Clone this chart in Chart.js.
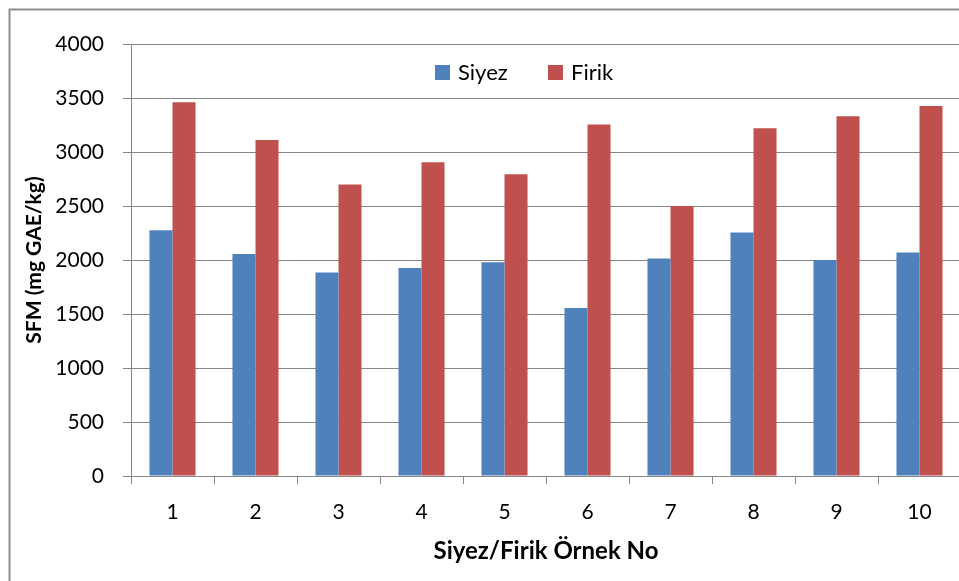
<!DOCTYPE html>
<html>
<head>
<meta charset="utf-8">
<script src="https://cdn.jsdelivr.net/npm/chart.js@4/dist/chart.umd.min.js"></script>
<style>
  html, body { margin: 0; padding: 0; background: #fff; overflow: hidden; }
  #wrap { width: 959px; height: 581px; overflow: hidden; position: relative; }
  canvas { display: block; }
</style>
</head>
<body>
<div id="wrap"><canvas id="c" width="966" height="581"></canvas></div>
<script>
// Sample numbers on the category axis
const categories = ['1', '2', '3', '4', '5', '6', '7', '8', '9', '10'];
// Total phenolic content, mg GAE/kg
const siyezValues = [2275, 2055, 1885, 1925, 1980, 1555, 2015, 2255, 2000, 2070];
const firikValues = [3460, 3110, 2700, 2905, 2795, 3255, 2500, 3220, 3330, 3425];
const seriesNames = ['Siyez', 'Firik'];
const yTicks = [0, 500, 1000, 1500, 2000, 2500, 3000, 3500, 4000];

const FONT = 'Lato, "Open Sans", sans-serif';
const GRID = '#858585';

// Outer frame of the chart
const framePlugin = {
  id: 'frame',
  beforeDraw(chart) {
    const ctx = chart.ctx;
    ctx.save();
    ctx.fillStyle = '#fff';
    ctx.fillRect(0, 0, chart.width, chart.height);
    ctx.strokeStyle = '#8e8e8e';
    ctx.lineWidth = 2;
    ctx.strokeRect(9.5, 9.5, 1200, 1200);
    ctx.restore();
  }
};

// Legend drawn inside the plot area, near its top
const innerLegend = {
  id: 'innerLegend',
  afterDraw(chart) {
    const ctx = chart.ctx;
    const xs = [435, 548];
    const y = 72;
    ctx.save();
    ctx.font = '22px ' + FONT;
    ctx.textBaseline = 'middle';
    ctx.textAlign = 'left';
    chart.data.datasets.forEach((ds, i) => {
      ctx.fillStyle = ds.backgroundColor;
      ctx.fillRect(xs[i], y - 7, 15, 15);
      ctx.fillStyle = '#000';
      ctx.fillText(ds.label, xs[i] + 23, y + 1);
    });
    ctx.restore();
  }
};

new Chart(document.getElementById('c'), {
  type: 'bar',
  data: {
    labels: categories,
    datasets: [
      { label: seriesNames[0], data: siyezValues, backgroundColor: '#4F81BD' },
      { label: seriesNames[1], data: firikValues, backgroundColor: '#C0504D' }
    ]
  },
  options: {
    responsive: false,
    animation: false,
    devicePixelRatio: 1,
    layout: { padding: { top: 44, right: 5, left: 0, bottom: 0 } },
    datasets: { bar: { categoryPercentage: 0.555, barPercentage: 1.0 } },
    plugins: { legend: { display: false }, tooltip: { enabled: false } },
    scales: {
      x: {
        afterFit(s) { s.height = 105; },
        grid: { display: true, drawOnChartArea: false, drawTicks: true, tickLength: 8, color: GRID, offset: true },
        border: { display: true, color: GRID, width: 1 },
        ticks: { color: '#000', font: { family: FONT, size: 21 }, padding: 16, maxRotation: 0 },
        title: {
          display: true, text: 'Siyez/Firik Örnek No', color: '#000',
          font: { family: FONT, size: 24, weight: 'bold' }, padding: { top: 0, bottom: 15 }
        }
      },
      y: {
        min: 0, max: 4000,
        afterFit(s) { s.width = 131; },
        afterBuildTicks(s) { s.ticks = yTicks.map(v => ({ value: v })); },
        grid: { color: GRID, lineWidth: 1, tickLength: 8, drawTicks: true },
        border: { display: true, color: GRID, width: 1 },
        ticks: {
          color: '#000', font: { family: FONT, size: 21 }, padding: 19,
          callback: v => String(v)
        },
        title: {
          display: true, text: 'SFM (mg GAE/kg)', color: '#000',
          font: { family: FONT, size: 21, weight: 'bold' }, padding: { top: 22, bottom: 0 }
        }
      }
    }
  },
  plugins: [framePlugin, innerLegend]
});
</script>
</body>
</html>
